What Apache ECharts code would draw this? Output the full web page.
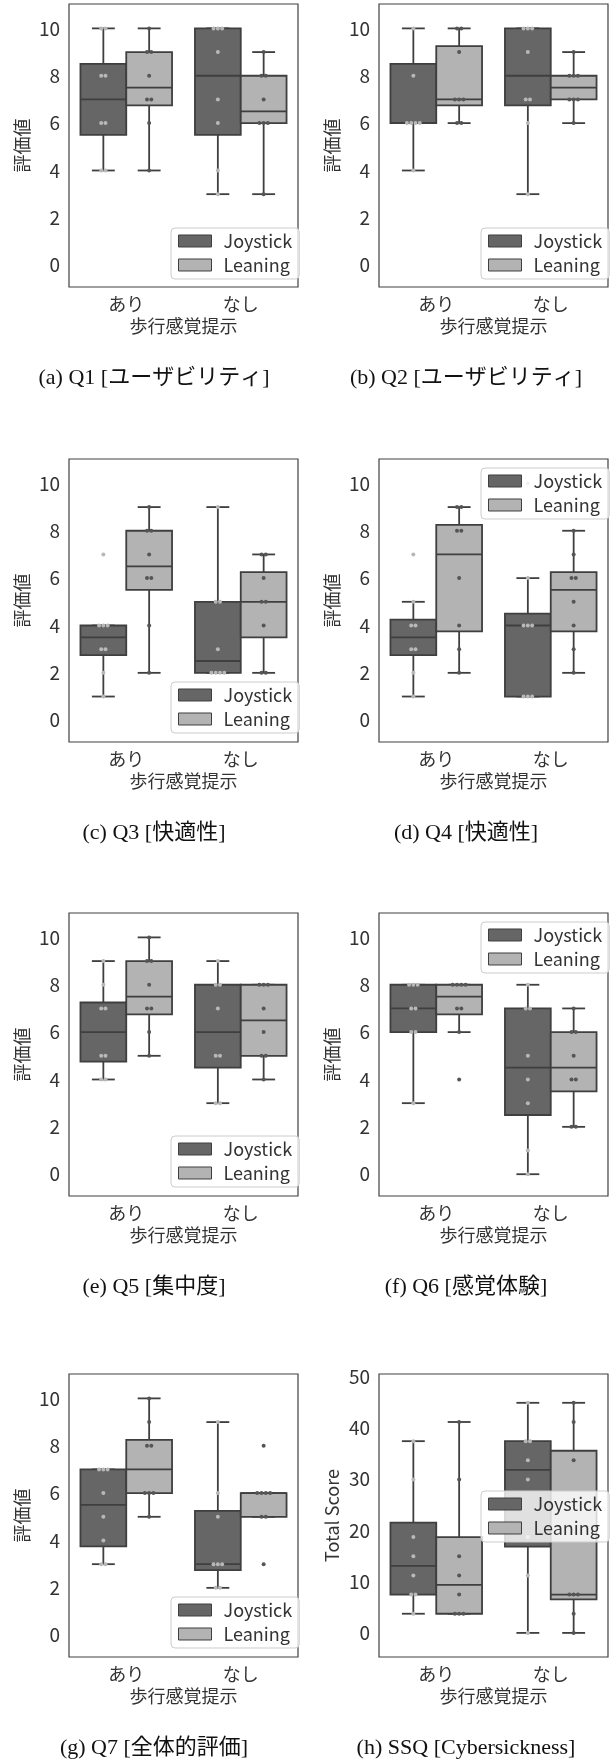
<!DOCTYPE html>
<html><head><meta charset="utf-8">
<script src="https://cdn.jsdelivr.net/npm/echarts@6/dist/echarts.min.js"></script>
<style>html,body{margin:0;padding:0;background:#fff}#c{width:611px;height:1762px}</style>
</head><body><div id="c"></div>
<script>
const categories = ['あり', 'なし'];
const groupNames = ['Joystick', 'Leaning'];
const xAxisName = '歩行感覚提示';
const ratingTicks = [0, 2, 4, 6, 8, 10];
const ssqTicks = [0, 10, 20, 30, 40, 50];
const captions = ['(a) Q1 [ユーザビリティ]', '(b) Q2 [ユーザビリティ]', '(c) Q3 [快適性]', '(d) Q4 [快適性]',
  '(e) Q5 [集中度]', '(f) Q6 [感覚体験]', '(g) Q7 [全体的評価]', '(h) SSQ [Cybersickness]'];
const yNames = ['評価値', '評価値', '評価値', '評価値', '評価値', '評価値', '評価値', 'Total Score'];

// box stats [lower whisker, Q1, median, Q3, upper whisker]; order: あり-Joystick, あり-Leaning, なし-Joystick, なし-Leaning
const q1Box = [[4, 5.5, 7, 8.5, 10], [4, 6.75, 7.5, 9, 10], [3, 5.5, 8, 10, 10], [3, 6, 6.5, 8, 9]];
const q1Pts = [[4, 4, 6, 6, 8, 8, 10, 10], [4, 6, 7, 7, 8, 9, 9, 10], [3, 4, 6, 7, 9, 10, 10, 10], [3, 6, 6, 6, 7, 8, 8, 9]];
const q2Box = [[4, 6, 6, 8.5, 10], [6, 6.75, 7, 9.25, 10], [3, 6.75, 8, 10, 10], [6, 7, 7.5, 8, 9]];
const q2Pts = [[4, 6, 6, 6, 6, 8, 10], [6, 6, 7, 7, 7, 9, 10, 10], [3, 6, 7, 7, 9, 10, 10, 10], [6, 7, 7, 7, 8, 8, 8, 9]];
const q3Box = [[1, 2.75, 3.5, 4, 4], [2, 5.5, 6.5, 8, 9], [2, 2, 2.5, 5, 9], [2, 3.5, 5, 6.25, 7]];
const q3Pts = [[1, 2, 3, 3, 4, 4, 4, 7], [2, 4, 6, 6, 7, 8, 8, 9], [2, 2, 2, 2, 3, 5, 5, 9], [2, 2, 4, 5, 5, 6, 7, 7]];
const q4Box = [[1, 2.75, 3.5, 4.25, 5], [2, 3.75, 7, 8.25, 9], [1, 1, 4, 4.5, 6], [2, 3.75, 5.5, 6.25, 8]];
const q4Pts = [[1, 2, 3, 3, 4, 4, 5, 7], [2, 3, 4, 6, 8, 8, 9, 9], [1, 1, 1, 4, 4, 4, 6, 10], [2, 3, 4, 5, 6, 6, 7, 8]];
const q5Box = [[4, 4.75, 6, 7.25, 9], [5, 6.75, 7.5, 9, 10], [3, 4.5, 6, 8, 9], [4, 5, 6.5, 8, 8]];
const q5Pts = [[4, 4, 5, 5, 7, 7, 8, 9], [5, 6, 7, 7, 8, 9, 9, 10], [3, 3, 5, 5, 7, 8, 8, 9], [4, 5, 5, 6, 7, 8, 8, 8]];
const q6Box = [[3, 6, 7, 8, 8], [6, 6.75, 7.5, 8, 8], [0, 2.5, 4.5, 7, 8], [2, 3.5, 4.5, 6, 7]];
const q6Pts = [[3, 6, 6, 7, 7, 8, 8, 8], [4, 6, 7, 7, 8, 8, 8, 8], [0, 1, 3, 4, 5, 7, 7, 8], [2, 2, 4, 4, 5, 6, 6, 7]];
const q7Box = [[3, 3.75, 5.5, 7, 7], [5, 6, 7, 8.25, 10], [2, 2.75, 3, 5.25, 9], [5, 5, 6, 6, 6]];
const q7Pts = [[3, 3, 4, 5, 6, 7, 7, 7], [5, 6, 6, 6, 8, 8, 9, 10], [2, 2, 3, 3, 3, 5, 6, 9], [3, 5, 5, 6, 6, 6, 6, 8]];
const ssqBox = [[3.74, 7.48, 13.09, 21.5, 37.4], [3.74, 3.74, 9.35, 18.7, 41.14], [0, 16.83, 31.79, 37.4, 44.88], [0, 6.55, 7.48, 35.53, 44.88]];
const ssqPts = [[3.74, 7.48, 7.48, 11.22, 14.96, 18.7, 29.92, 37.4], [3.74, 3.74, 3.74, 7.48, 11.22, 14.96, 29.92, 41.14],
  [0, 11.22, 18.7, 29.92, 33.66, 37.4, 37.4, 44.88], [0, 3.74, 7.48, 7.48, 7.48, 33.66, 41.14, 44.88]];

const boxSets = [q1Box, q2Box, q3Box, q4Box, q5Box, q6Box, q7Box, ssqBox];
const pointSets = [q1Pts, q2Pts, q3Pts, q4Pts, q5Pts, q6Pts, q7Pts, ssqPts];

const FILL = ['#666666', '#b3b3b3'];
const PT = ['#b8b8b8', '#555555'];
const LINE = '#3f3f3f';
const LW = 1.8;
const FONT = "'Noto Sans CJK JP', 'Noto Sans', sans-serif";
const TXT = '#333333';

function boxRender(g) {
  return function (params, api) {
    const cat = api.value(0);
    const lo = api.value(1), q1 = api.value(2), med = api.value(3), q3 = api.value(4), hi = api.value(5);
    const band = api.size([1, 0])[0];
    const base = api.coord([cat, med]);
    const w = band * 0.4;
    const cx = base[0] + (g === 0 ? -1 : 1) * band * 0.2;
    const y = v => api.coord([cat, v])[1];
    const ls = { stroke: LINE, lineWidth: LW };
    return {
      type: 'group', children: [
        { type: 'line', shape: { x1: cx, y1: y(q3), x2: cx, y2: y(hi) }, style: ls },
        { type: 'line', shape: { x1: cx, y1: y(q1), x2: cx, y2: y(lo) }, style: ls },
        { type: 'line', shape: { x1: cx - w / 4, y1: y(hi), x2: cx + w / 4, y2: y(hi) }, style: ls },
        { type: 'line', shape: { x1: cx - w / 4, y1: y(lo), x2: cx + w / 4, y2: y(lo) }, style: ls },
        { type: 'rect', shape: { x: cx - w / 2, y: y(q3), width: w, height: y(q1) - y(q3) }, style: { fill: FILL[g], stroke: LINE, lineWidth: LW } },
        { type: 'line', shape: { x1: cx - w / 2, y1: y(med), x2: cx + w / 2, y2: y(med) }, style: ls }
      ]
    };
  };
}
function pointRender(g) {
  return function (params, api) {
    const c = api.coord([api.value(0), api.value(1)]);
    const band = api.size([1, 0])[0];
    const cx = c[0] + (g === 0 ? -1 : 1) * band * 0.2 + api.value(2) * 4.3;
    return { type: 'circle', shape: { cx: cx, cy: c[1], r: 2 }, style: { fill: PT[g] } };
  };
}
function dodge(values) {
  const counts = {}, seen = {};
  values.forEach(v => { counts[v] = (counts[v] || 0) + 1; });
  return values.map(v => {
    const k = seen[v] || 0; seen[v] = k + 1;
    return k - (counts[v] - 1) / 2;
  });
}

const colLeft = [69, 379], rowTop = [4, 459, 913, 1374];
const legendTop = [228, 228, 682, 468, 1136, 922, 1597, 1491];
const captionX = [154, 466];

const grids = [], xAxes = [], yAxes = [], series = [], legends = [], graphics = [];
boxSets.forEach((box, i) => {
  const col = i % 2, row = Math.floor(i / 2);
  const isSSQ = i === 7;
  grids.push({ left: colLeft[col], top: rowTop[row], width: 229, height: 283, show: true,
    borderColor: '#404040', borderWidth: 1.2, backgroundColor: 'transparent' });
  xAxes.push({ gridIndex: i, type: 'category', data: categories,
    axisLine: { show: false }, axisTick: { show: false }, splitLine: { show: false },
    axisLabel: { fontSize: 18, color: TXT, margin: 8, fontFamily: FONT },
    name: xAxisName, nameLocation: 'middle', nameGap: 30,
    nameTextStyle: { fontSize: 18, color: TXT, fontFamily: FONT } });
  yAxes.push({ gridIndex: i, type: 'value', min: isSSQ ? -4.7 : -0.92, max: isSSQ ? 50.5 : 11.03,
    axisLine: { show: false }, axisTick: { show: false }, splitLine: { show: false },
    axisLabel: { customValues: isSSQ ? ssqTicks : ratingTicks, fontSize: 19, color: TXT, margin: 9, fontFamily: FONT },
    name: yNames[i], nameLocation: 'middle', nameGap: 38,
    nameTextStyle: { fontSize: 18, color: TXT, fontFamily: FONT } });
  [0, 1].forEach(g => {
    series.push({ type: 'custom', name: groupNames[g], xAxisIndex: i, yAxisIndex: i, z: 2,
      itemStyle: { color: FILL[g], borderColor: LINE, borderWidth: 1 },
      data: [[0].concat(box[g]), [1].concat(box[2 + g])], renderItem: boxRender(g), silent: true });
  });
  [0, 1].forEach(g => {
    const data = [];
    [0, 1].forEach(cat => {
      const vals = pointSets[i][cat * 2 + g];
      const off = dodge(vals);
      vals.forEach((v, k) => data.push([cat, v, off[k]]));
    });
    series.push({ type: 'custom', name: 'pts' + g, xAxisIndex: i, yAxisIndex: i, z: 3,
      data: data, renderItem: pointRender(g), silent: true });
  });
  legends.push({ left: colLeft[col] + 102, top: legendTop[i], orient: 'vertical', selectedMode: false,
    data: groupNames.map((n, g) => ({ name: n, icon: 'rect', itemStyle: { color: FILL[g], borderColor: LINE, borderWidth: 1 } })),
    itemWidth: 33, itemHeight: 12, itemGap: 6, padding: [4, 7, 5, 7],
    backgroundColor: 'rgba(255,255,255,0.8)', borderColor: '#cccccc', borderWidth: 1, borderRadius: 4,
    textStyle: { fontSize: 18, color: TXT, fontFamily: FONT, padding: [0, 0, 0, 7] }, z: 10 });
  graphics.push({ type: 'text', x: captionX[col], y: rowTop[row] + 374, z: 10,
    style: { text: captions[i], font: "22px 'Liberation Serif', 'Noto Sans CJK JP', serif", fill: '#111',
      align: 'center', verticalAlign: 'middle', textAlign: 'center', textVerticalAlign: 'middle' } });
});

const chart = echarts.init(document.getElementById('c'));
chart.setOption({ animation: false, backgroundColor: '#ffffff', grid: grids, xAxis: xAxes, yAxis: yAxes,
  series: series, legend: legends, graphic: graphics });
</script></body></html>
